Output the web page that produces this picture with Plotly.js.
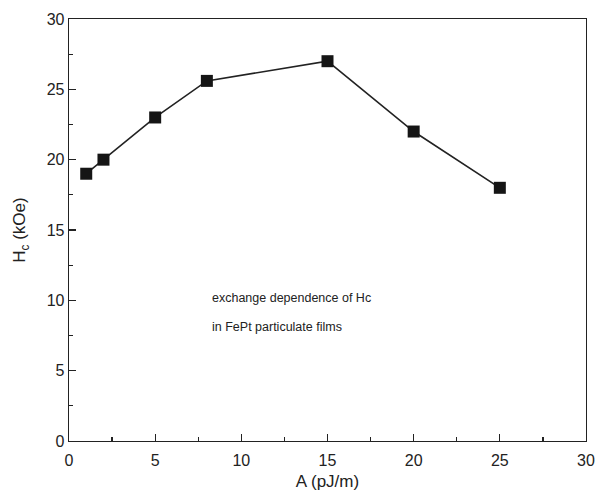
<!DOCTYPE html>
<html>
<head>
<meta charset="utf-8">
<script src="https://cdn.plot.ly/plotly-3.0.1.min.js"></script>
<style>html,body{margin:0;padding:0;background:#fff;}#chart{width:596px;height:491px;}</style>
</head>
<body>
<div id="chart"></div>
<script>
const exchangeA = [1, 2, 5, 8, 15, 20, 25];
const coercivityHc = [19, 20, 23, 25.6, 27, 22, 18];
const xTicks = [0, 5, 10, 15, 20, 25, 30];
const yTicks = [0, 5, 10, 15, 20, 25, 30];
const noteLines = ["exchange dependence of Hc", "in FePt particulate films"];

const font = "Liberation Sans, Arial, Helvetica, sans-serif";
const axisCommon = {
  showgrid: false, zeroline: false, showline: true, linecolor: "#222", linewidth: 1.3,
  mirror: true, ticks: "inside", ticklen: 7, tickwidth: 1.2, tickcolor: "#222",
  tickfont: {family: font, size: 16, color: "#222"},
  minor: {ticks: "inside", ticklen: 4, tickwidth: 1.2, tickcolor: "#222", dtick: 2.5}
};
const trace = {
  x: exchangeA, y: coercivityHc, mode: "lines+markers", type: "scatter",
  line: {color: "#222", width: 1.6},
  marker: {symbol: "square", size: 12, color: "#151515"},
  cliponaxis: false, hoverinfo: "none"
};
const layout = {
  width: 596, height: 491,
  margin: {l: 68.5, r: 10.3, t: 19.3, b: 50},
  paper_bgcolor: "#fff", plot_bgcolor: "#fff", showlegend: false,
  xaxis: Object.assign({}, axisCommon, {
    range: [0, 30], tickvals: xTicks, ticktext: xTicks.map(String), ticklabelstandoff: 4,
    title: {text: "A (pJ/m)", font: {family: font, size: 17, color: "#222"}, standoff: 9}
  }),
  yaxis: Object.assign({}, axisCommon, {
    range: [0, 30], tickvals: yTicks, ticktext: yTicks.map(String),
    title: {text: "H<sub>c</sub> (kOe)", font: {family: font, size: 17, color: "#222"}, standoff: 16}
  }),
  annotations: noteLines.map((t, i) => ({
    text: t, xref: "paper", yref: "paper", x: (210 - 68.5) / 517.2, y: (441 - (298 + 29 * i)) / 421.7,
    xanchor: "left", yanchor: "middle", showarrow: false,
    font: {family: font, size: 12.5, color: "#222"}
  }))
};
Plotly.newPlot("chart", [trace], layout, {staticPlot: true, displayModeBar: false});
</script>
</body>
</html>
